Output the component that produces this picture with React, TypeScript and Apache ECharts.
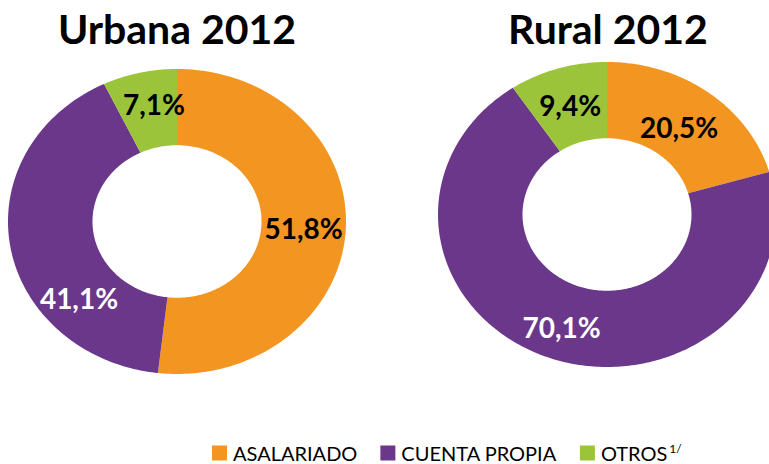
import React, { useEffect, useRef } from "react";
import * as echarts from "echarts";

// ---- data ----
const categories = ["ASALARIADO", "CUENTA PROPIA", "OTROS"];
const chartTitles = ["Urbana 2012", "Rural 2012"];
const urbana = [51.8, 41.1, 7.1];
const rural = [20.5, 70.1, 9.4];

// ---- styles / layout ----
const colors = ["#F39621", "#6B378B", "#9BC43A"];
const labelColors = ["#000000", "#FFFFFF", "#000000"];
const centers = [
  [177, 221.5],
  [607, 214.5],
];
const RX = 169;
const RY = 152.5;
const INNER = 0.5;
const LABEL_R = 0.75;
// manual label nudges (donutIndex-seriesIndex -> [dx, dy])
const labelShift: Record<string, number[]> = {
  "0-1": [27, 58],
  "0-2": [5, -6],
  "1-0": [-4, 4],
  "1-1": [-2, 5],
};

const fmt = (v: number) => v.toFixed(1).replace(".", ",") + "%";

export default function App() {
  const ref = useRef<HTMLDivElement>(null);
  useEffect(() => {
    if (!ref.current) return;
    const chart = echarts.init(ref.current, undefined, { renderer: "svg" });
    const donuts = [urbana, rural];

    const series = categories.map((cat, ci) => {
      const data = donuts.map((vals, di) => {
        let start = 0;
        for (let k = 0; k < ci; k++) start += vals[k];
        return { name: cat, value: [di, vals[ci], start] };
      });
      return {
        type: "custom",
        name: cat,
        coordinateSystem: "none",
        itemStyle: { color: colors[ci] },
        data,
        renderItem: (params: any, api: any) => {
          const di = api.value(0);
          const v = api.value(1);
          const s = api.value(2);
          const [cx, cy] = centers[di];
          const a0 = (s / 100) * Math.PI * 2;
          const a1 = ((s + v) / 100) * Math.PI * 2;
          const pt = (r: number, a: number) => [
            cx + RX * r * Math.sin(a),
            cy - RY * r * Math.cos(a),
          ];
          const n = Math.max(2, Math.ceil(((a1 - a0) * 180) / Math.PI));
          const points: number[][] = [];
          for (let i = 0; i <= n; i++) points.push(pt(1, a0 + ((a1 - a0) * i) / n));
          for (let i = n; i >= 0; i--) points.push(pt(INNER, a0 + ((a1 - a0) * i) / n));
          const am = (a0 + a1) / 2;
          const lp = pt(LABEL_R, am);
          const sh = labelShift[di + "-" + params.seriesIndex] || [0, 0];
          return {
            type: "group",
            children: [
              {
                type: "polygon",
                shape: { points },
                style: { fill: api.visual("color") },
              },
              {
                type: "text",
                x: lp[0] + sh[0],
                y: lp[1] + sh[1],
                z2: 10,
                style: {
                  text: fmt(v),
                  textAlign: "center",
                  textVerticalAlign: "middle",
                  fontSize: 28,
                  fontWeight: "bold",
                  fontFamily: "Lato",
                  fill: labelColors[params.seriesIndex],
                },
              },
            ],
          };
        },
      };
    });

    chart.setOption({
      animation: false,
      backgroundColor: "#FFFFFF",
      graphic: chartTitles.map((t, i) => ({
        type: "text",
        x: i === 0 ? 177 : 608,
        y: 28,
        style: {
          text: t,
          textAlign: "center",
          textVerticalAlign: "middle",
          fontSize: 41,
          fontWeight: "bold",
          fontFamily: "Lato",
          fill: "#000000",
        },
      })),
      legend: {
        left: 212,
        top: 442,
        padding: 0,
        itemWidth: 15,
        itemHeight: 15,
        itemGap: 23,
        icon: "rect",
        data: categories,
        formatter: (name: string) =>
          name === "OTROS" ? "{a|OTROS}{s|1/}" : "{a|" + name + "}",
        textStyle: {
          padding: [0, 0, 0, 1],
          rich: {
            a: { fontSize: 20, fontFamily: "Lato", color: "#000000" },
            s: {
              fontSize: 12,
              fontFamily: "Lato",
              color: "#000000",
              verticalAlign: "top",
              padding: [0, 0, 10, 2],
            },
          },
        },
      },
      series,
    });
    return () => chart.dispose();
  }, []);
  return (
    <div
      ref={ref}
      style={{ position: "absolute", left: 0, top: 0, width: 769, height: 464 }}
    />
  );
}
